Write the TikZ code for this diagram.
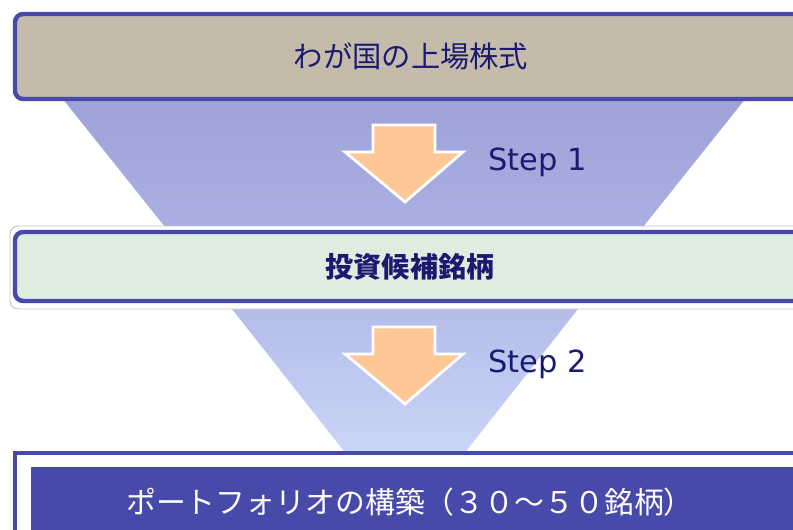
\documentclass[tikz,border=0pt]{standalone}
\usepackage{fontspec}
\setmainfont{Noto Sans CJK JP}
\newfontfamily\steplatin{DejaVu Sans}
\usetikzlibrary{positioning,calc}
\definecolor{frameBlue}{RGB}{72,74,170}
\definecolor{tanFill}{RGB}{196,187,170}
\definecolor{mintFill}{RGB}{221,237,223}
\definecolor{navyText}{RGB}{26,26,112}
\definecolor{funnelTopA}{RGB}{158,162,216}
\definecolor{funnelLowA}{RGB}{170,176,226}
\definecolor{funnelTopB}{RGB}{180,188,234}
\definecolor{funnelLowB}{RGB}{202,214,247}
\definecolor{arrowPeach}{RGB}{253,200,150}
\tikzset{
  stageBox/.style={draw=frameBlue,line width=3.8pt,rounded corners=7pt,inner sep=0pt,
    text=navyText,font=\fontsize{25}{25}\selectfont},
  outerFrame/.style={draw=gray!45,line width=0.8pt,fill=white,rounded corners=7pt,inner sep=0pt},
  stepArrow/.style={fill=arrowPeach,draw=white,line width=2.4pt,line join=miter},
  stepLabel/.style={text=navyText,font=\steplatin\fontsize{26}{26}\selectfont,anchor=west},
}

\begin{document}
\begin{tikzpicture}[x=0.03cm,y=-0.03cm]
\useasboundingbox (0,0) rectangle (793,529);
\clip (0,0) rectangle (793,529);

% ===== Funnel sections =====
\shade[top color=funnelTopA,bottom color=funnelLowA]
  (62,98) -- (746,98) -- (639,232) -- (169,232) -- cycle;
\shade[top color=funnelTopB,bottom color=funnelLowB]
  (232,309) -- (578,309) -- (463,455) -- (347,455) -- cycle;

% ===== Stages =====
\node[stageBox,fill=tanFill,minimum width=23.76cm,minimum height=2.55cm]
  (market) at (411,56.5) {わが国の上場株式};

\node[outerFrame,minimum width=24.15cm,minimum height=2.49cm] (candidatesFrame) at (412.5,267.5) {};
\node[stageBox,fill=mintFill,minimum width=23.7cm,minimum height=2.07cm,font=\fontsize{24}{24}\selectfont\bfseries]
  (candidates) at (410,266.5) {投資候補銘柄};

\node[draw=frameBlue,line width=3.4pt,fill=white,inner sep=0pt,minimum width=24cm,minimum height=3.51cm]
  (portfolioFrame) at (415,511.5) {};
\node[fill=frameBlue,inner sep=0pt,minimum width=23.52cm,minimum height=3.09cm]
  (portfolio) at (423,518.5) {};
\node[text=white,font=\fontsize{25.5}{25.5}\selectfont]
  (portfolioLabel) at (410,502) {ポートフォリオの構築（３０～５０銘柄）};

% ===== Step arrows =====
\foreach \i/\y in {1/125,2/327} {
  \draw[stepArrow] (373,\y) -- (435,\y) -- (435,\y+27) -- (463,\y+27)
    -- (405,\y+77) -- (345,\y+27) -- (373,\y+27) -- cycle;
  \node[stepLabel] (step\i) at (484,\y+37) {Step \i};
}

\end{tikzpicture}
\end{document}
